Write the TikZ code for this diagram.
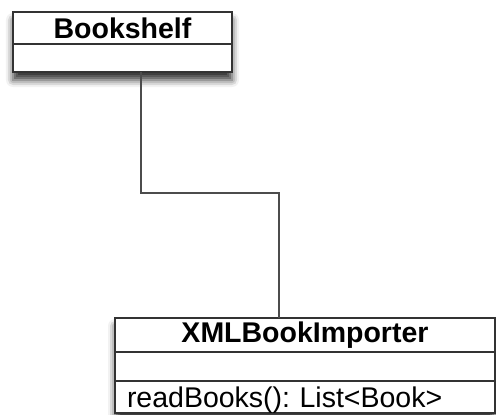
\documentclass[tikz,border=0pt]{standalone}
\usepackage{fontspec}
\setmainfont{Liberation Sans}
\usetikzlibrary{shadows.blur,backgrounds}
\begin{document}
\frenchspacing
\begin{tikzpicture}[x=1pt,y=-1pt,
  umlpart/.style={draw=black!80,line width=1.6pt,fill=white,inner sep=0pt,outer sep=0pt,anchor=north west},
  umlhead/.style={umlpart,font=\fontsize{28.5}{30}\selectfont\bfseries},
  umlop/.style={umlpart,font=\fontsize{28.5}{30}\selectfont,align=left,inner xsep=12pt,text depth=0pt},
  conn/.style={draw=black!70,line width=1.8pt},
  boxshadow/.style={fill=white,blur shadow={shadow xshift=0pt,shadow yshift=-8pt,shadow blur radius=7pt,shadow opacity=80}}]
\useasboundingbox (0,0) rectangle (496,415);
% shadows
\path[boxshadow] (13,12) rectangle (232,72);
\path[boxshadow] (115,318) rectangle (495,413);
% Bookshelf
\node[umlhead,minimum width=219pt,minimum height=32pt] (bsh) at (13,12) {Bookshelf};
\node[umlpart,minimum width=219pt,minimum height=28pt] (bsb) at (13,44) {};
% XMLBookImporter
\node[umlhead,minimum width=380pt,minimum height=34pt] (xh) at (115,318) {XMLBookImporter};
\node[umlpart,minimum width=380pt,minimum height=29pt] (xa) at (115,352) {};
\node[umlop,text width=356pt,minimum height=32pt] (xo) at (115,381) {readBooks(): List<Book>};
% connector
\coordinate (b1) at (141,193);
\coordinate (b2) at (279,193);
\draw[conn] (bsb.south -| b1) -- (b1) -- (b2) -- (xh.north -| b2);
\end{tikzpicture}
\end{document}
